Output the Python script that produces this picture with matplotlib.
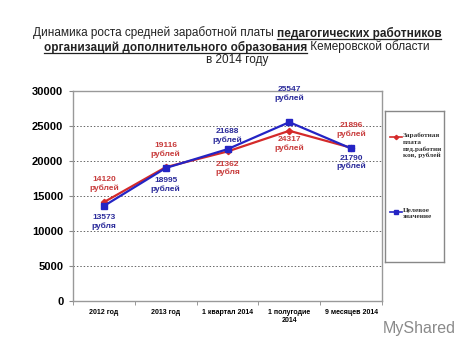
import matplotlib
matplotlib.use("Agg")
import matplotlib.pyplot as plt
from matplotlib.lines import Line2D

plt.rcParams['font.family'] = ['Liberation Sans', 'DejaVu Sans']

# данные
periods = ["2012 год", "2013 год", "1 квартал 2014", "1 полугодие\n2014", "9 месяцев 2014"]
salary = [14120, 19116, 21362, 24317, 21896]
target = [13573, 18995, 21688, 25547, 21790]
salary_units = ["рублей", "рублей", "рубля", "рублей", "рублей"]
target_units = ["рубля", "рублей", "рублей", "рублей", "рублей"]

# смещения подписей (в пикселях)
salary_offsets = [18, 17, -17, -13, 18]
target_offsets = [-16, -17, 13, 28, -14]

RED = "#d42a2a"
BLUE = "#2424c4"
RED_TXT = "#c83c3c"
BLUE_TXT = "#2a2a9a"

fig = plt.figure(figsize=(4.74, 3.55), dpi=100)
ax = fig.add_axes([73 / 474, 1 - 301 / 355, 309 / 474, 210 / 355])

x = list(range(len(periods)))
ax.plot(x, salary, color=RED, lw=1.6, marker="D", ms=3.2, zorder=3)
ax.plot(x, target, color=BLUE, lw=1.6, marker="s", ms=4, zorder=4)

for i in x:
    ax.annotate(f"{salary[i]}\n{salary_units[i]}", (i, salary[i]),
                xytext=(0, salary_offsets[i]), textcoords="offset pixels",
                ha="center", va="center", fontsize=6, fontweight="bold",
                color=RED_TXT, linespacing=1.2)
    ax.annotate(f"{target[i]}\n{target_units[i]}", (i, target[i]),
                xytext=(0, target_offsets[i]), textcoords="offset pixels",
                ha="center", va="center", fontsize=6, fontweight="bold",
                color=BLUE_TXT, linespacing=1.2)

ax.set_xlim(-0.5, len(periods) - 0.5)
ax.set_ylim(0, 30000)
ax.set_yticks(range(0, 30001, 5000))
ax.set_yticklabels([str(v) for v in range(0, 30001, 5000)], fontsize=8, fontweight="bold")
ax.set_xticks(x)
ax.set_xticklabels(periods, fontsize=5, fontweight="bold")
ax.set_xticks([i - 0.5 for i in range(len(periods) + 1)], minor=True)
ax.tick_params(axis="x", which="major", length=0, pad=6)
ax.tick_params(axis="x", which="minor", length=3, color="#888888")
ax.tick_params(axis="y", length=3, color="#888888", pad=4)
for yv in range(5000, 30000, 5000):
    ax.axhline(yv, color="#666666", lw=0.7, ls=(0, (1.5, 2)), zorder=1)
for s in ax.spines.values():
    s.set_color("#999999")
    s.set_linewidth(1.0)

# легенда
lax = fig.add_axes([385 / 474, 1 - 262 / 355, 59 / 474, 151 / 355])
lax.set_xlim(0, 59)
lax.set_ylim(151, 0)
lax.set_xticks([])
lax.set_yticks([])
for s in lax.spines.values():
    s.set_color("#888888")
    s.set_linewidth(1.0)
lax.plot([5, 17], [26, 26], color=RED, lw=1.2)
lax.plot([11], [26], color=RED, marker="D", ms=2.2)
lax.text(18, 22, "Заработная\nплата\nпед.работни\nков, рублей", fontsize=5.2,
         family=["Liberation Serif", "DejaVu Serif"], fontweight="bold",
         color="#333333", va="top", ha="left", linespacing=1.3)
lax.plot([5, 17], [101, 101], color=BLUE, lw=1.2)
lax.plot([11], [101], color=BLUE, marker="s", ms=2.2)
lax.text(18, 97, "Целевое\nзначение", fontsize=5.2,
         family=["Liberation Serif", "DejaVu Serif"], fontweight="bold",
         color="#333333", va="top", ha="left", linespacing=1.3)

# заголовок со смешанным начертанием
title_lines = [
    [("Динамика роста средней заработной платы ", False), ("педагогических работников", True)],
    [("организаций дополнительного образования", True), (" Кемеровской области", False)],
    [("в 2014 году", False)],
]
title_y = [33, 47, 60]

fig.canvas.draw()
renderer = fig.canvas.get_renderer()
W, H = fig.bbox.width, fig.bbox.height
for parts, ypx in zip(title_lines, title_y):
    texts = []
    for s, bold in parts:
        t = fig.text(0, 1 - ypx / 355, s, fontsize=8.5, fontweight="bold" if bold else "normal",
                     color="#222222", va="center", ha="left")
        texts.append((t, bold))
    widths = [t.get_window_extent(renderer).width for t, _ in texts]
    total = sum(widths)
    x0 = (W - total) / 2
    for (t, bold), w in zip(texts, widths):
        t.set_x(x0 / W)
        if bold:
            fig.add_artist(Line2D([x0 / W, (x0 + w) / W], [1 - (ypx + 6) / 355] * 2,
                                  color="#222222", lw=0.9))
        x0 += w

fig.text(383 / 474, 1 - 328 / 355, "MyShared", fontsize=11.5, color="#8a8a8a",
         ha="left", va="center")

fig.savefig("out.png", dpi=100)
